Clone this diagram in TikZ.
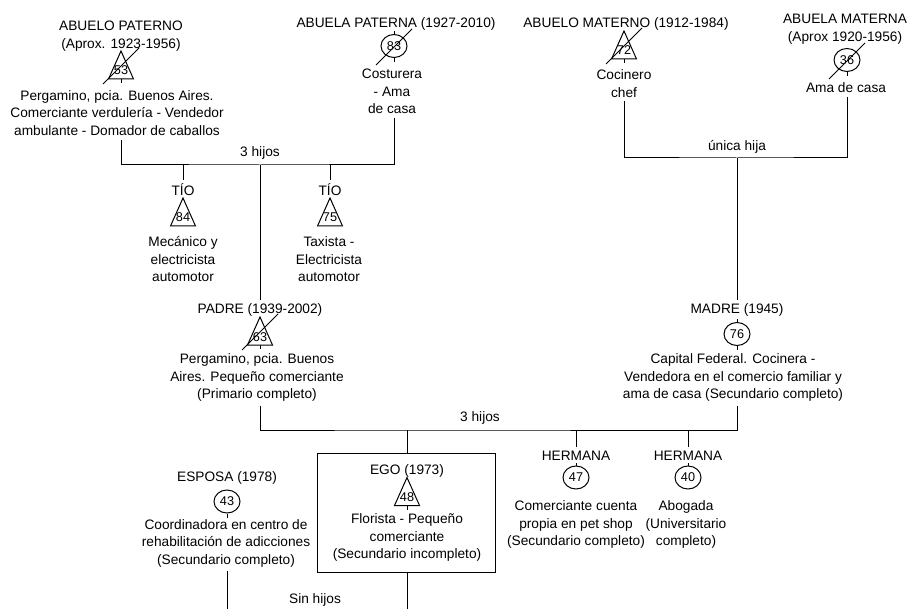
\documentclass[tikz,border=0pt]{standalone}
\usepackage{fontspec}
\setmainfont{Liberation Sans}
\usetikzlibrary{shapes.geometric}
\newcommand\trinum[1]{\raisebox{-5.5pt}[9pt][0pt]{#1}}
\begin{document}
\begin{tikzpicture}[x=1pt,y=-1pt,
  txt/.style={font=\fontsize{13.7}{17.5}\selectfont, align=center, inner sep=0pt, outer sep=4pt},
  fem/.style={draw, line width=1pt, ellipse, minimum width=26pt, minimum height=23pt, inner sep=0pt, font=\fontsize{12.7}{14}\selectfont},
  male/.style={minimum width=25pt, minimum height=28pt, inner sep=0pt, outer sep=0pt, font=\fontsize{12.7}{14}\selectfont},
  ln/.style={line width=1pt}]
\useasboundingbox[fill=white] (0,0) rectangle (909,609);

% ---------- paternal grandparents ----------
\node[txt] (aplbl) at (121,36) {ABUELO PATERNO\\(Aprox. 1923-1956)};
\node[male] (ap) at (121,65) {\trinum{53}};
\node[txt] (aptxt) at (117,113) {Pergamino, pcia. Buenos Aires.\\Comerciante verdulería - Vendedor\\ambulante - Domador de caballos};

\node[txt] (abplbl) at (396,24) {ABUELA PATERNA (1927-2010)};
\node[fem] (abp) at (394,46) {83};
\node[txt] (abptxt) at (392,91.5) {Costurera\\- Ama\\de casa};

\node[txt] (h3a) at (260,153) {3 hijos};
\coordinate (pbar) at (260,165);

% ---------- uncles ----------
\node[txt] (tio1lbl) at (183,190) {TÍO};
\node[male] (tio1) at (183,212) {\trinum{84}};
\node[txt] (tio1txt) at (183,259.5) {Mecánico y\\electricista\\automotor};

\node[txt] (tio2lbl) at (330,190) {TÍO};
\node[male] (tio2) at (330,212) {\trinum{75}};
\node[txt] (tio2txt) at (329,259.5) {Taxista -\\Electricista\\automotor};

% ---------- father ----------
\node[txt] (padrelbl) at (260,310) {PADRE (1939-2002)};
\node[male] (padre) at (260,331) {\trinum{63}};
\node[txt] (padretxt) at (257,377.7) {Pergamino, pcia. Buenos\\Aires. Pequeño comerciante\\(Primario completo)};

% ---------- maternal grandparents ----------
\node[txt] (amlbl) at (626,24) {ABUELO MATERNO (1912-1984)};
\node[male] (am) at (624,45) {\trinum{72}};
\node[txt] (amtxt) at (624,83.5) {Cocinero\\chef};

\node[txt] (abmlbl) at (845,29) {ABUELA MATERNA\\(Aprox 1920-1956)};
\node[fem] (abm) at (847,60) {36};
\node[txt] (abmtxt) at (846,88) {Ama de casa};

\node[txt] (unica) at (737,147) {única hija};
\coordinate (mbar) at (737,158);

% ---------- mother ----------
\node[txt] (madrelbl) at (737,310) {MADRE (1945)};
\node[fem] (madre) at (737,334) {76};
\node[txt] (madretxt) at (733,377.7) {Capital Federal. Cocinera -\\Vendedora en el comercio familiar y\\ama de casa (Secundario completo)};

% ---------- children ----------
\node[txt] (h3b) at (480,418) {3 hijos};
\coordinate (cbar) at (407,430);

\node[draw, line width=1pt, minimum width=178pt, minimum height=119pt, inner sep=0pt] (egobox) at (406,512.5) {};
\node[txt] (egolbl) at (407,471) {EGO (1973)};
\node[male] (ego) at (407,491.5) {\trinum{48}};
\node[txt] (egotxt) at (407,537.7) {Florista - Pequeño\\comerciante\\(Secundario incompleto)};

\node[txt] (h1lbl) at (576,456) {HERMANA};
\node[fem] (h1) at (576,477.5) {47};
\node[txt] (h1txt) at (576,524.7) {Comerciante cuenta\\propia en pet shop\\(Secundario completo)};

\node[txt] (h2lbl) at (688,456) {HERMANA};
\node[fem] (h2) at (688,477.5) {40};
\node[txt] (h2txt) at (686,524.7) {Abogada\\(Universitario\\completo)};

% ---------- spouse ----------
\node[txt] (esplbl) at (227,478) {ESPOSA (1978)};
\node[fem] (esp) at (227,501.5) {43};
\node[txt] (esptxt) at (226,543) {Coordinadora en centro de\\rehabilitación de adicciones\\(Secundario completo)};

\node[txt] (sinhijos) at (315,600) {Sin hijos};
\coordinate (bot) at (300,609);

% ---------- symbols ----------
\foreach \n in {ap,am,tio1,tio2,padre,ego}
  \draw[ln] (\n.north) -- (\n.south east) -- (\n.south west) -- cycle;
\foreach \n in {ap,abp,am,abm,padre}
  \draw[ln] ([shift={(-18,19)}]\n.center) -- ([shift={(18,-17)}]\n.center);
\foreach \n in {ap,abp,am,abm,padre,madre,ego,esp}
  \draw[ln] (\n.south) -- ++(0,4);
\foreach \n in {madre,h1,h2,abp}
  \draw[ln] (\n.north) -- ++(0,-3);

% ---------- connectors ----------
\draw[ln] (ap |- aptxt.south) |- (pbar) -| (abp |- abptxt.south);
\draw[ln] (tio1lbl.north |- pbar) -- (tio1lbl.north);
\draw[ln] (tio2lbl.north |- pbar) -- (tio2lbl.north);
\draw[ln] (pbar) -- (padrelbl.north);

\draw[ln] (am |- amtxt.south) |- (mbar) -| (abm |- abmtxt.south);
\draw[ln] (mbar) -- (madrelbl.north);

\draw[ln] (padre |- padretxt.south) |- (cbar) -| (madre |- madretxt.south);
\draw[ln] (cbar) -- (egobox.north -| cbar);
\draw[ln] (h1lbl.north |- cbar) -- (h1lbl.north);
\draw[ln] (h2lbl.north |- cbar) -- (h2lbl.north);

\draw[ln] (esp |- esptxt.south) -- (esp |- bot);
\draw[ln] (egobox.south -| cbar) -- (cbar |- bot);
\end{tikzpicture}
\end{document}
